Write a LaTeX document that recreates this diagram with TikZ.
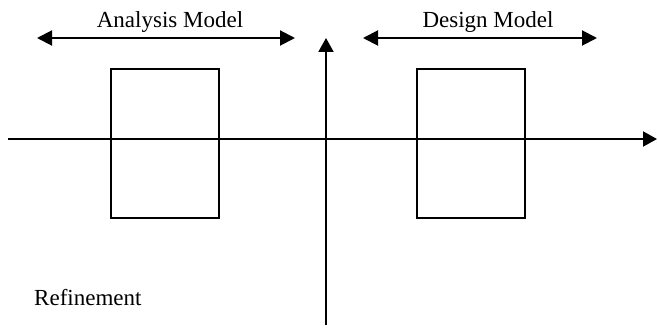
\documentclass[tikz,border=0pt]{standalone}
\usepackage{fontspec}
\setmainfont{Liberation Serif}
\usetikzlibrary{arrows.meta}
\begin{document}
\begin{tikzpicture}[x=1pt,y=-1pt,
  axis/.style={line width=2pt,-{Triangle[length=14pt,width=15pt]}},
  span/.style={line width=2pt,{Triangle[length=15pt,width=15pt]}-{Triangle[length=15pt,width=15pt]}},
  modelbox/.style={draw,line width=1.4pt,inner sep=0pt},
  lbl/.style={font=\fontsize{23}{27}\selectfont,inner sep=0pt}]
\useasboundingbox (0,0) rectangle (658,329);
% axes
\coordinate (hL) at (8,139);
\coordinate (hR) at (657,139);
\coordinate (vB) at (326,325);
\coordinate (vT) at (326,38);
\draw[axis] (hL) -- (hR);
\draw[axis] (vB) -- (vT);
% model boxes
\node[modelbox,minimum width=108pt,minimum height=149pt] (boxA) at (165,143.5) {};
\node[modelbox,minimum width=108pt,minimum height=149pt] (boxD) at (471,143.5) {};
% extent arrows
\coordinate (aL) at (37,38);
\coordinate (aR) at (295,38);
\coordinate (dL) at (363,38);
\coordinate (dR) at (597,38);
\draw[span] (aL) -- (aR);
\draw[span] (dL) -- (dR);
% labels
\node[lbl,anchor=base] (tA) at (170,28) {Analysis Model};
\node[lbl,anchor=base] (tD) at (488,28) {Design Model};
\node[lbl,anchor=base west] (tR) at (34,305) {Refinement};
\end{tikzpicture}
\end{document}
